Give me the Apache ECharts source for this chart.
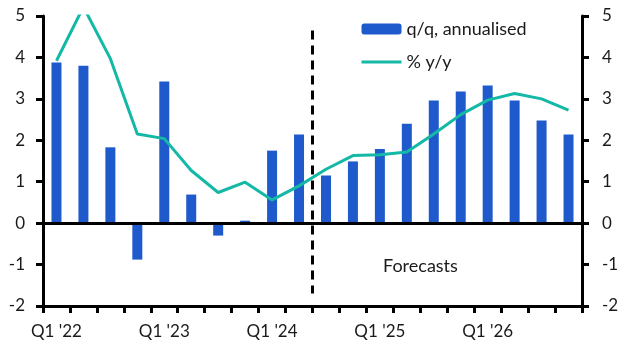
<!DOCTYPE html>
<html>
<head>
<meta charset="utf-8">
<script src="https://cdn.jsdelivr.net/npm/echarts@6/dist/echarts.min.js"></script>
<style>html,body{margin:0;padding:0;background:#fff}#c{width:630px;height:355px}</style>
</head>
<body>
<div id="c"></div>
<script>
const categories = ["Q1 '22","Q2 '22","Q3 '22","Q4 '22","Q1 '23","Q2 '23","Q3 '23","Q4 '23","Q1 '24","Q2 '24","Q3 '24","Q4 '24","Q1 '25","Q2 '25","Q3 '25","Q4 '25","Q1 '26","Q2 '26","Q3 '26","Q4 '26"];
const qqAnnualised = [3.88,3.80,1.83,-0.88,3.42,0.69,-0.30,0.06,1.75,2.14,1.15,1.49,1.79,2.40,2.96,3.18,3.32,2.96,2.48,2.14];
const yy = [3.92,5.22,3.97,2.15,2.04,1.27,0.74,0.99,0.56,0.90,1.30,1.63,1.65,1.72,2.15,2.62,2.97,3.13,3.00,2.73];
const forecastStart = 10; // boundary index between Q2 '24 and Q3 '24
const forecastLine = [[forecastStart, 4.65],[forecastStart, -1.70]];
const yTicks = {min: -2, max: 5, interval: 1};

const FONT = 'Lato';
const TXT = '#1a1a1a';
const chart = echarts.init(document.getElementById('c'), null, {renderer:'canvas'});
const axisLineStyle = {color:'#000', width:3};
chart.setOption({
  animation:false,
  textStyle:{fontFamily:FONT},
  grid:{left:43, right:48, top:16, bottom:49, containLabel:false},
  legend:{
    orient:'vertical', left:355, top:15, itemWidth:40, itemHeight:11, itemGap:15,
    textStyle:{fontFamily:FONT, fontSize:18, color:TXT},
    data:[{name:'q/q, annualised'},{name:'% y/y', itemStyle:{opacity:0}, lineStyle:{width:3, color:'#14b8a6'}}]
  },
  xAxis:[{
    type:'category', data:categories, boundaryGap:true,
    axisLine:{show:true, lineStyle:axisLineStyle, onZero:false},
    axisTick:{show:true, interval:0, length:7, lineStyle:{color:'#000', width:3}},
    axisLabel:{interval:3, margin:17, fontFamily:FONT, fontSize:17, color:TXT},
    splitLine:{show:false}
  },{
    type:'value', min:0, max:categories.length, show:false
  }],
  yAxis:[{
    type:'value', position:'left', min:yTicks.min, max:yTicks.max, interval:yTicks.interval,
    axisLine:{show:true, lineStyle:axisLineStyle},
    axisTick:{show:true, length:7, lineStyle:{color:'#000', width:3}},
    axisLabel:{margin:18, fontFamily:FONT, fontSize:17, color:TXT},
    splitLine:{show:false}
  },{
    type:'value', position:'right', min:yTicks.min, max:yTicks.max, interval:yTicks.interval,
    axisLine:{show:true, lineStyle:axisLineStyle},
    axisTick:{show:true, length:7, lineStyle:{color:'#000', width:3}},
    axisLabel:{margin:20, fontFamily:FONT, fontSize:17, color:TXT},
    splitLine:{show:false}
  }],
  series:[{
    name:'q/q, annualised', type:'bar', data:qqAnnualised, barWidth:10,
    itemStyle:{color:'#1f5acc'},
    markLine:{silent:true, symbol:'none', label:{show:false},
      lineStyle:{color:'#000', width:3, type:'solid'}, data:[{yAxis:0}]},
    z:2
  },{
    name:'% y/y', type:'line', data:yy, symbol:'none', clip:true,
    lineStyle:{color:'#14b8a6', width:3}, itemStyle:{color:'#14b8a6'}, z:3
  },{
    name:'forecast', type:'line', xAxisIndex:1, data:forecastLine, symbol:'none',
    lineStyle:{color:'#000', width:3, type:[9,6]}, silent:true, z:4
  }],
  graphic:[{
    type:'text', left:383, top:257,
    style:{text:'Forecasts', font:'18px Lato', fill:TXT}
  }]
});
</script>
</body>
</html>
